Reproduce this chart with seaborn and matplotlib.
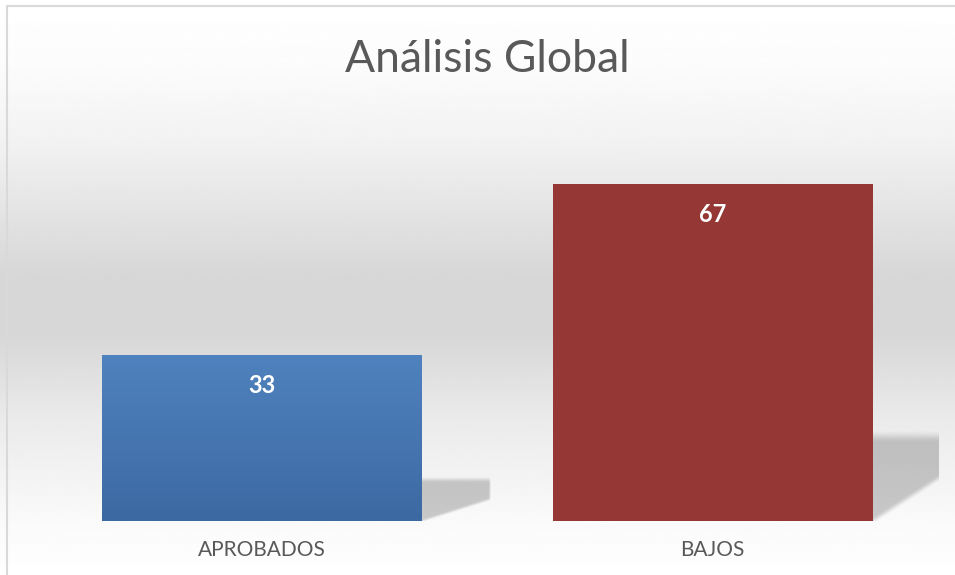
import numpy as np
import pandas as pd
import matplotlib
matplotlib.use("Agg")
import matplotlib.pyplot as plt
import seaborn as sns
from matplotlib.colors import LinearSegmentedColormap

# Data
categorias = ["APROBADOS", "BAJOS"]
valores = [33, 67]
titulo = "Análisis Global"

df = pd.DataFrame({"Categoria": categorias, "Valor": valores})

sns.set_theme(style="white")
plt.rcParams["font.family"] = ["Lato", "DejaVu Sans"]

fig = plt.figure(figsize=(9.55, 5.75), dpi=100)
W, H = 955, 575

# Background gradient (white -> grey -> white)
bg = fig.add_axes([0, 0, 1, 1], zorder=0)
ys = np.linspace(0, H, 600)
stops_y = [0, 60, 140, 280, 330, 420, 520, 575]
stops_v = [1.0, 0.99, 0.95, 0.84, 0.84, 0.92, 0.98, 1.0]
v = np.interp(ys, stops_y, stops_v)
bg.imshow(np.repeat(v[:, None], 2, axis=1), cmap="gray", vmin=0, vmax=1,
          aspect="auto", extent=[0, W, H, 0], interpolation="bicubic")
bg.set_xlim(0, W)
bg.set_ylim(H, 0)
bg.axis("off")
# chart border (left and top)
bg.plot([7, 7], [H, 6], color="#d9d9d9", lw=1.5)
bg.plot([7, W], [6, 6], color="#d9d9d9", lw=1.5)

ax = fig.add_axes([37 / W, (H - 521) / H, 901 / W, 402 / H], zorder=1)
ax.patch.set_alpha(0)
sns.barplot(data=df, x="Categoria", y="Valor", hue="Categoria",
            palette=["#4f81bd", "#953735"], width=0.71, legend=False,
            saturation=1, linewidth=0, edgecolor="none", ax=ax)
ax.set_ylim(0, 80)
ax.set_xlim(-0.5, 1.5)
sns.despine(ax=ax, left=True, bottom=True)
ax.set_yticks([])
ax.set_xlabel("")
ax.set_ylabel("")
ax.tick_params(axis="x", length=0, pad=14, labelsize=15, labelcolor="#595959")


def smooth(z):
    z = np.clip(z, 0, 1)
    return z * z * (3 - 2 * z)


# soft perspective shadows, built from each bar's geometry
blue_cmap = LinearSegmentedColormap.from_list("b", ["#3d69a2", "#4f82be"])
for i, p in enumerate(ax.patches):
    x0, w, h = p.get_x(), p.get_width(), p.get_height()
    x1 = x0 + w
    dx = 0.15
    u = np.linspace(0, 1.1, 120)[None, :]
    t = np.linspace(0, 0.3, 120)[:, None]
    top = smooth((0.25 - t) / 0.04 + 0.5)
    right = smooth((1.0 - u) / 0.04 + 0.5)
    diag = smooth((t - 0.13 * u) / 0.025 + 0.5)
    a = 0.2 * top * right * diag
    rgba = np.zeros((120, 120, 4))
    rgba[..., 3] = a
    ax.imshow(rgba, origin="lower", aspect="auto", interpolation="bilinear",
              extent=[x1, x1 + 1.1 * dx, 0, 0.3 * h], zorder=2)
    if i == 0:
        p.set_facecolor("none")
        grad = np.linspace(0, 1, 100)[:, None]
        im = ax.imshow(grad, cmap=blue_cmap, aspect="auto", origin="lower",
                       extent=[x0, x1, 0, h], zorder=3)
        im.set_clip_path(p)
    p.set_zorder(3)
    ax.text(x0 + w / 2, h - 6, str(valores[i]), ha="center", va="center",
            color="white", fontsize=17, fontweight="bold", zorder=4)

ax.set_xlim(-0.5, 1.5)
ax.set_ylim(0, 80)

fig.text(487 / W, 1 - 60 / H, titulo, ha="center", va="center",
         fontsize=32, color="#595959")

fig.savefig("out.png", dpi=100)
